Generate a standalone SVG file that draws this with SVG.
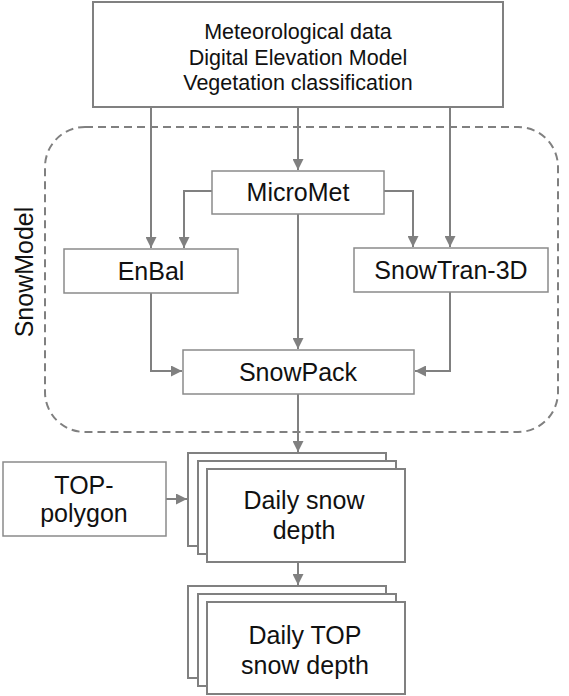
<svg xmlns="http://www.w3.org/2000/svg" width="569" height="696" viewBox="0 0 569 696">
<style>
text{font-family:"Liberation Sans",Arial,sans-serif;fill:#111;text-anchor:middle;dominant-baseline:central}
.box{fill:#fff;stroke:#8a8a8a;stroke-width:1.5}
.bigbox{fill:#fff;stroke:#808080;stroke-width:2}
.stack{fill:#fff;stroke:#808080;stroke-width:2}
.conn{fill:none;stroke:#808080;stroke-width:2}
.t{font-size:21.5px}
.n{font-size:25px}
</style>
<defs>
<marker id="ah" viewBox="0 0 10 10" refX="10" refY="5" markerWidth="5.5" markerHeight="5.5" orient="auto" markerUnits="strokeWidth">
<path d="M0,0 L10,5 L0,10 z" fill="#808080"/>
</marker>
</defs>
<g id="snowmodel-group">
<rect x="45" y="127" width="513" height="305" rx="40" ry="40" fill="none" stroke="#808080" stroke-width="2" stroke-dasharray="8,5"/>
<text class="n" x="24" y="272" transform="rotate(-90 24 272)">SnowModel</text>
</g>
<g id="connectors">
<path class="conn" d="M151,107 V248" marker-end="url(#ah)"/>
<path class="conn" d="M298,107 V170" marker-end="url(#ah)"/>
<path class="conn" d="M450,107 V247" marker-end="url(#ah)"/>
<path class="conn" d="M212,191 H184 V248" marker-end="url(#ah)"/>
<path class="conn" d="M384,191 H413 V247" marker-end="url(#ah)"/>
<path class="conn" d="M298,214 V349" marker-end="url(#ah)"/>
<path class="conn" d="M151,293 V371 H182" marker-end="url(#ah)"/>
<path class="conn" d="M450,292 V371 H415" marker-end="url(#ah)"/>
<path class="conn" d="M298,394 V452" marker-end="url(#ah)"/>
<path class="conn" d="M166,499 H187" marker-end="url(#ah)"/>
<path class="conn" d="M298,562 V585" marker-end="url(#ah)"/>
</g>
<g id="inputs">
<rect class="bigbox" x="93" y="2" width="410" height="105"/>
<text class="t" x="298" y="32">Meteorological data</text>
<text class="t" x="298" y="58">Digital Elevation Model</text>
<text class="t" x="298" y="83">Vegetation classification</text>
</g>
<g id="micromet">
<rect class="box" x="212" y="171" width="172" height="43"/>
<text class="n" x="298" y="192">MicroMet</text>
</g>
<g id="enbal">
<rect class="box" x="64" y="249" width="174" height="44"/>
<text class="n" x="151" y="271">EnBal</text>
</g>
<g id="snowtran">
<rect class="box" x="354" y="248" width="194" height="44"/>
<text class="n" x="451" y="270">SnowTran-3D</text>
</g>
<g id="snowpack">
<rect class="box" x="183" y="350" width="231" height="44"/>
<text class="n" x="298" y="372">SnowPack</text>
</g>
<g id="top-polygon">
<rect class="box" x="3" y="462" width="163" height="74"/>
<text class="n" x="84" y="485">TOP-</text>
<text class="n" x="84" y="513">polygon</text>
</g>
<g id="daily-snow-depth">
<rect class="stack" x="188" y="453" width="198" height="93"/>
<rect class="stack" x="198" y="461" width="198" height="93"/>
<rect class="stack" x="207" y="469" width="198" height="93"/>
<text class="n" x="304" y="500">Daily snow</text>
<text class="n" x="304" y="530">depth</text>
</g>
<g id="daily-top-snow-depth">
<rect class="stack" x="188" y="586" width="198" height="92"/>
<rect class="stack" x="198" y="594" width="198" height="92"/>
<rect class="stack" x="207" y="602" width="198" height="92"/>
<text class="n" x="305" y="635">Daily TOP</text>
<text class="n" x="305" y="665">snow depth</text>
</g>
</svg>
